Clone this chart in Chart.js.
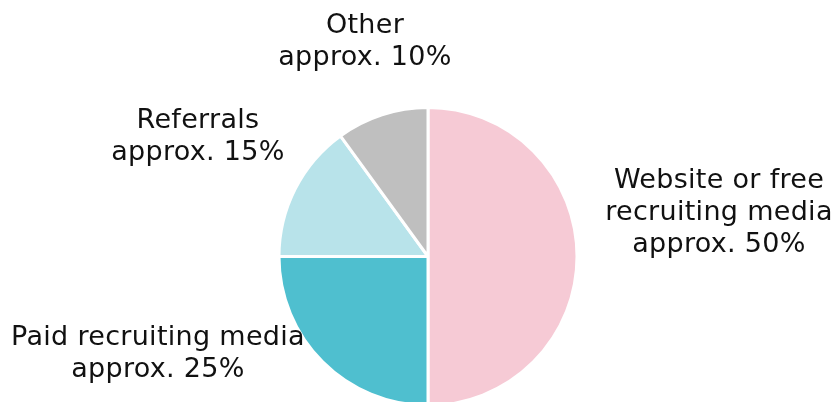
<!DOCTYPE html>
<html>
<head>
<meta charset="utf-8">
<script src="https://cdn.jsdelivr.net/npm/chart.js@4"></script>
<style>
  html, body { margin: 0; padding: 0; background: #fff; overflow: hidden; }
  #wrap { width: 835px; height: 412px; }
</style>
</head>
<body>
<div id="wrap"><canvas id="pieChart"></canvas></div>
<script>
const categories = ["Website or free recruiting media", "Paid recruiting media", "Referrals", "Other"];
const shares = [50, 25, 15, 10];
const colors = ["#F6CAD5", "#4FBFCF", "#B8E3EA", "#BFBFBF"];
// label lines, and where each block sits relative to the pie centre
const labelLines = [
  ["Website or free", "recruiting media", "approx. 50%"],
  ["Paid recruiting media", "approx. 25%"],
  ["Referrals", "approx. 15%"],
  ["Other", "approx. 10%"],
];
const labelOffsets = [[291, -76], [-270, 81], [-230, -136], [-63, -231]];

const outsideLabels = {
  id: "outsideLabels",
  afterDraw(chart) {
    const arc = chart.getDatasetMeta(0).data[0];
    const ctx = chart.ctx;
    ctx.save();
    ctx.font = "27px 'DejaVu Sans'";
    ctx.letterSpacing = "0.3px";
    ctx.fillStyle = "#111";
    ctx.textAlign = "center";
    ctx.textBaseline = "middle";
    labelLines.forEach((lines, i) => {
      const [dx, dy] = labelOffsets[i];
      lines.forEach((t, j) => {
        ctx.fillText(t, arc.x + dx, arc.y + dy + j * 32);
      });
    });
    ctx.restore();
  },
};

new Chart(document.getElementById("pieChart"), {
  type: "pie",
  data: {
    labels: categories,
    datasets: [{
      data: shares,
      backgroundColor: colors,
      borderColor: "#fff",
      borderWidth: 3,
    }],
  },
  options: {
    responsive: true,
    maintainAspectRatio: false,
    animation: false,
    layout: { padding: { top: 106, bottom: 5, left: 277, right: 256 } },
    plugins: {
      legend: { display: false },
      tooltip: { enabled: false },
    },
  },
  plugins: [outsideLabels],
});
</script>
</body>
</html>
